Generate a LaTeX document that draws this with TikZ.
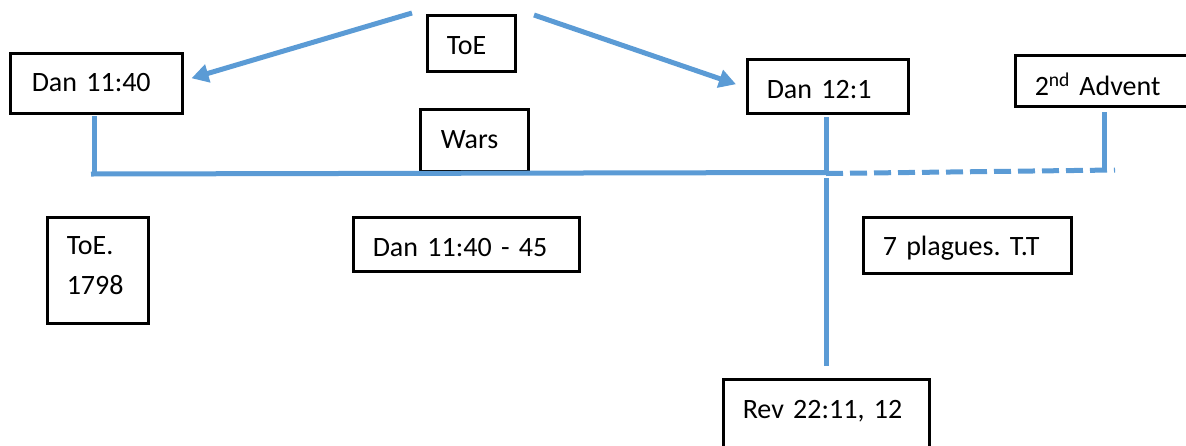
\documentclass[tikz,border=0pt]{standalone}
\usepackage{fontspec}
\setmainfont{Carlito}
\usetikzlibrary{arrows.meta,calc}
\definecolor{lineblue}{HTML}{5B9BD5}
\frenchspacing
\begin{document}
\begin{tikzpicture}[x=1pt,y=-1pt,
  box/.style={draw=black, line width=2.5pt, anchor=north west, inner ysep=0pt,
    inner xsep=19.5pt, align=left, font=\fontsize{28}{40}\selectfont},
  link/.style={draw=lineblue, line width=5pt},
  pointer/.style={link, -{Triangle[length=17pt,width=18pt]}},
  future/.style={link, dash pattern=on 17pt off 7pt}]
\useasboundingbox (0,0) rectangle (1186,445);

% text boxes
\node[box, text width=49pt,  text height=39pt, text depth=17pt] (toe)       at (426,14)  {ToE};
\node[box, inner xsep=21.5pt, text width=129pt, text height=38pt, text depth=22pt] (dan1140) at (9,52) {Dan 11:40};
\node[box, text width=122pt, text height=39pt, text depth=15pt] (dan121)    at (746,58)  {Dan 12:1};
\node[box, text width=133pt, text height=40pt, text depth=11pt] (advent)    at (1014,54) {2\textsuperscript{nd} Advent};
\node[box, inner xsep=20.5pt, text width=67pt, text height=39pt, text depth=23pt] (wars) at (419,108) {Wars};
\node[box, text width=62pt,  text height=37pt, text depth=69pt] (toe1798)   at (46,216)  {ToE.\\1798};
\node[box, text width=187pt, text height=39pt, text depth=15pt] (dan114045) at (352,216) {Dan 11:40 - 45};
\node[box, text width=169pt, text height=38pt, text depth=18pt] (plagues)   at (862,216) {7 plagues. T.T};
\node[box, text width=167pt, text height=39pt, text depth=63pt] (rev)       at (722,378) {Rev 22:11, 12};

% free ends of the connectors
\coordinate (toeL)   at (412,13);
\coordinate (toeR)   at (534,15);
\coordinate (leftup) at (94,116);
\coordinate (leftdn) at (94,174);
\coordinate (h0)     at (91,174);
\coordinate (split)  at (826,172.5);
\coordinate (d0)     at (826,173.5);
\coordinate (d1)     at (1115,170);
\coordinate (midup)  at (826.5,117);
\coordinate (midmid) at (826.5,174);
\coordinate (midlo)  at (826.5,178);
\coordinate (middn)  at (826.5,366);
\coordinate (advup)  at (1104,112);
\coordinate (advdn)  at (1104,171);

% arrows from ToE
\draw[pointer] (toeL) -- ($(dan1140.east)+(8,-5)$);
\draw[pointer] (toeR) -- ($(dan121.west)+(-10,-2)$);

% time line
\draw[link] (leftup) -- (leftdn);
\draw[link] (h0) -- (split);
\draw[future] (d0) -- (d1);
\draw[link] (midup) -- (midmid);
\draw[link] (midlo) -- (middn);
\draw[link] (advup) -- (advdn);
\end{tikzpicture}
\end{document}
